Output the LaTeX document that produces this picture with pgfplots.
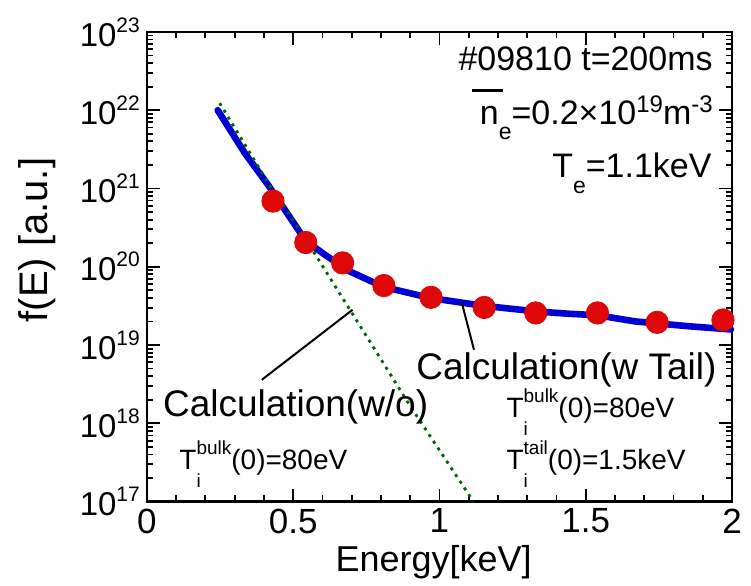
\documentclass[border=0pt]{standalone}
\usepackage{pgfplots}
\pgfplotsset{compat=1.18}
\usepackage{fontspec}
\setmainfont{Liberation Sans}
\definecolor{myblue}{RGB}{0,0,210}
\definecolor{myred}{RGB}{222,8,8}
\definecolor{mygreen}{RGB}{0,100,0}
\newcommand{\ytl}[1]{10\raisebox{7pt}{\fontsize{10.5}{11}\selectfont #1}}
\newcommand{\Ti}[1]{T\rlap{\raisebox{-9pt}{\fontsize{9.5}{10}\selectfont i}}\raisebox{7.5pt}{\fontsize{9.5}{10}\selectfont #1}}
\begin{document}
\begin{tikzpicture}
\begin{axis}[
  name=ax,
  scale only axis,
  width=292.8pt, height=235pt,
  xmin=0, xmax=2,
  ymode=log, ymin=1e17, ymax=1e23,
  xtick={0,0.5,1,1.5,2},
  xticklabels={0,0.5,1,1.5,2},
  minor x tick num=4,
  ytick={1e17,1e18,1e19,1e20,1e21,1e22,1e23},
  yticklabels={\ytl{17},\ytl{18},\ytl{19},\ytl{20},\ytl{21},\ytl{22},\ytl{23}},
  tick align=inside,
  major tick length=6.5pt,
  minor tick length=3.2pt,
  axis line style={line width=1.2pt},
  every tick/.style={black, line width=0.9pt},
  xticklabel style={font=\fontsize{17.5}{20}\selectfont},
  yticklabel style={font=\fontsize{16.5}{19}\selectfont},
  xlabel={Energy[keV]},
  ylabel={f(E) [a.u.]},
  xlabel style={font=\fontsize{18}{21}\selectfont, at={(axis description cs:0.49,-0.129)}, anchor=center},
  ylabel style={font=\fontsize{20}{22}\selectfont, at={(axis description cs:-0.188,0.557)}, anchor=center},
  clip=false,
]
\path (rel axis cs:-0.251,-0.168) rectangle (rel axis cs:1.0324,1.068);

\addplot[myblue, line width=3.3pt, line join=round, line cap=round] coordinates {
(0.242,1.0e22) (0.335,2.82e21) (0.415,1.10e21) (0.543,2.14e20) (0.61,1.41e20)
(0.694,8.7e19) (0.81,5.5e19) (0.97,3.98e19) (1.153,3.16e19) (1.33,2.69e19)
(1.44,2.51e19) (1.54,2.40e19) (1.67,2.0e19) (1.85,1.74e19) (1.996,1.58e19)
};
\addplot[mygreen, line width=1.4pt, dash pattern=on 1.5pt off 2.5pt] coordinates {
(0.249,1.23e22) (0.415,1.17e21) (0.543,2.24e20) (0.694,2.82e19) (0.9,1.66e18) (1.116,1.0e17)
};
\addplot[only marks, mark=*, mark size=5.6pt, mark options={fill=myred, draw=myred}] coordinates {
(0.431,6.9e20) (0.543,2.04e20) (0.669,1.12e20) (0.81,5.75e19) (0.971,4.07e19)
(1.153,3.02e19) (1.329,2.57e19) (1.540,2.57e19) (1.744,1.95e19) (1.969,2.09e19)
};

\draw[black, line width=1pt] (axis cs:0.703,2.82e19) -- (axis cs:0.393,3.6e18);
\draw[black, line width=1pt] (axis cs:1.077,3.4e19) -- (axis cs:1.118,8.7e18);

\node[anchor=base east, font=\fontsize{17}{20}\selectfont, inner sep=0pt] at (axis description cs:0.9675,0.917) {\#09810 t=200ms};
\node[anchor=base east, font=\fontsize{17}{20}\selectfont, inner sep=0pt] at (axis description cs:0.9675,0.802)
  {\makebox[0pt][l]{\hspace{-4pt}\rule[16.5pt]{15.5pt}{1.6pt}}n\raisebox{-7.5pt}{\fontsize{11.5}{12}\selectfont e}=0.2×10\raisebox{6pt}{\fontsize{12}{12}\selectfont 19}m\raisebox{6pt}{\fontsize{12}{12}\selectfont -3}};
\node[anchor=base east, font=\fontsize{17}{20}\selectfont, inner sep=0pt] at (axis description cs:0.9655,0.691)
  {T\raisebox{-8pt}{\fontsize{11.5}{12}\selectfont e}=1.1keV};
\node[anchor=base east, font=\fontsize{18.5}{21}\selectfont, inner sep=0pt] at (axis description cs:0.974,0.26) {Calculation(w Tail)};
\node[anchor=base west, font=\fontsize{18.5}{21}\selectfont, inner sep=0pt] at (axis description cs:0.027,0.181) {Calculation(w/o)};
\node[anchor=base west, font=\fontsize{14}{16}\selectfont, inner sep=0pt] at (axis description cs:0.055,0.068) {\Ti{bulk}(0)=80eV};
\node[anchor=base west, font=\fontsize{14}{16}\selectfont, inner sep=0pt] at (axis description cs:0.614,0.179) {\Ti{bulk}(0)=80eV};
\node[anchor=base west, font=\fontsize{14}{16}\selectfont, inner sep=0pt] at (axis description cs:0.614,0.068) {\Ti{tail}(0)=1.5keV};
\end{axis}
\end{tikzpicture}
\end{document}
